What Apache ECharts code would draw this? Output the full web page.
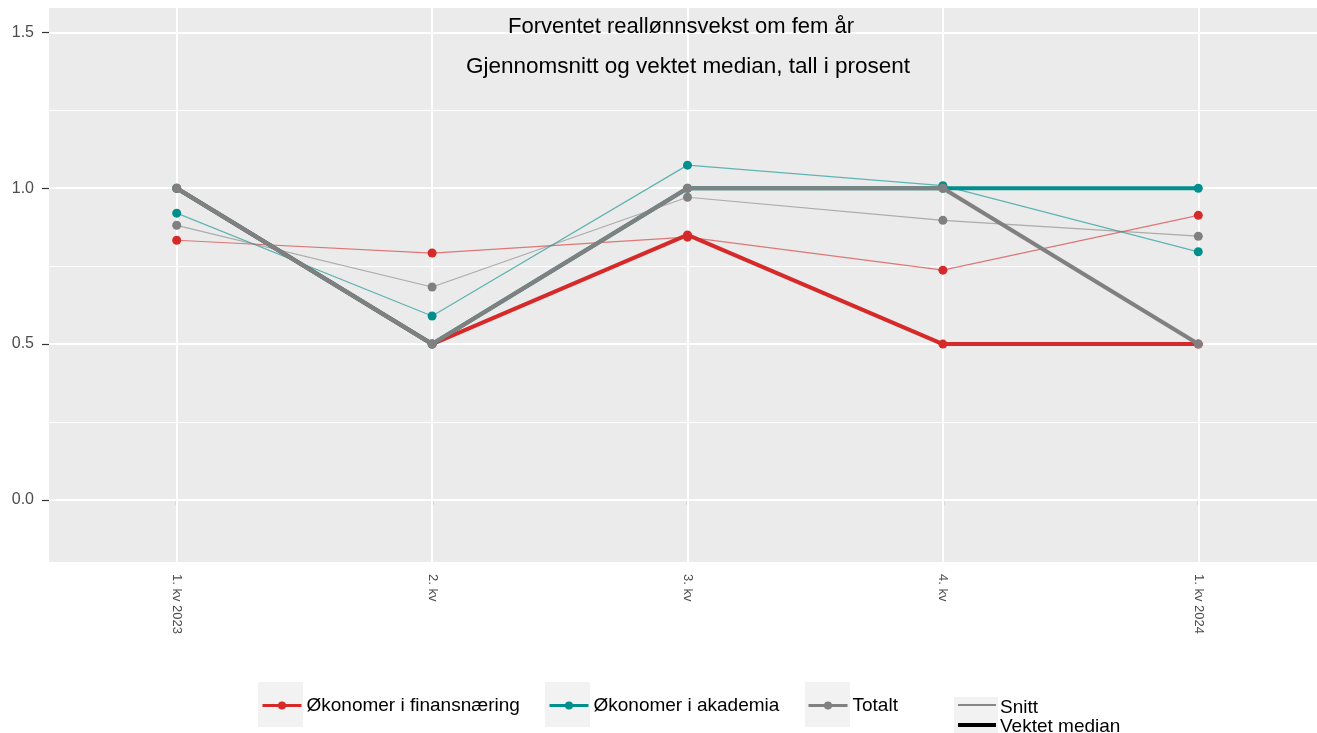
<!DOCTYPE html>
<html>
<head>
<meta charset="utf-8">
<script src="https://cdn.jsdelivr.net/npm/echarts@6/dist/echarts.min.js"></script>
<style>
html,body{margin:0;padding:0;background:#fff;}
#main{width:1317px;height:733px;}
</style>
</head>
<body>
<div id="main"></div>
<script>
// ---- data ----
const categories = ['1. kv 2023', '2. kv', '3. kv', '4. kv', '1. kv 2024'];
const finansSnitt   = [0.833, 0.792, 0.843, 0.737, 0.913];
const akademiaSnitt = [0.920, 0.590, 1.074, 1.008, 0.796];
const totaltSnitt   = [0.881, 0.683, 0.971, 0.897, 0.846];
const finansMedian   = [1.0, 0.5, 0.85, 0.5, 0.5];
const akademiaMedian = [1.0, 0.5, 1.0, 1.0, 1.0];
const totaltMedian   = [1.0, 0.5, 1.0, 1.0, 0.5];
const yTicks = [0, 0.5, 1.0, 1.5];
const yMinor = [0.25, 0.75, 1.25];
const names = ['Økonomer i finansnæring', 'Økonomer i akademia', 'Totalt'];
const colors = ['#d62a2a', '#008f8c', '#808080'];

const FONT = 'Liberation Sans, Arial, sans-serif';

function thin(name, data, color) {
  return {
    name: name, type: 'line', data: data, z: 3,
    symbol: 'circle', symbolSize: 9,
    itemStyle: {color: color},
    lineStyle: {color: color, width: 1.2, opacity: 0.6},
    emphasis: {disabled: true}, silent: true
  };
}
function thick(name, data, color, z) {
  return {
    name: name, type: 'line', data: data, z: z,
    symbol: 'circle', symbolSize: 9,
    itemStyle: {color: color},
    lineStyle: {color: color, width: 4},
    emphasis: {disabled: true}, silent: true
  };
}

const gridLines = [];
yTicks.forEach(v => gridLines.push({yAxis: v, lineStyle: {width: 2}}));
yMinor.forEach(v => gridLines.push({yAxis: v, lineStyle: {width: 1.1}}));
categories.forEach(c => gridLines.push({xAxis: c, lineStyle: {width: 2}}));

const chart = echarts.init(document.getElementById('main'), null, {renderer: 'canvas'});
chart.setOption({
  animation: false,
  backgroundColor: '#ffffff',
  title: [
    {text: 'Forventet reallønnsvekst om fem år', left: 681, top: 16, textAlign: 'center', padding: 0,
     textStyle: {fontFamily: FONT, fontSize: 22, fontWeight: 'normal', color: '#000'}},
    {text: 'Gjennomsnitt og vektet median, tall i prosent', left: 688, top: 55, textAlign: 'center', padding: 0,
     textStyle: {fontFamily: FONT, fontSize: 22.5, fontWeight: 'normal', color: '#000'}}
  ],
  grid: {left: 49, top: 8, width: 1277, height: 554, outerBoundsMode: 'none',
         show: true, backgroundColor: '#ebebeb', borderWidth: 0, containLabel: false},
  xAxis: {
    type: 'category', data: categories, boundaryGap: true,
    axisLine: {show: false},
    axisTick: {show: true, alignWithLabel: true, length: 5, lineStyle: {color: '#333', width: 1.2}},
    axisLabel: {rotate: -90, fontFamily: FONT, fontSize: 13, color: '#4d4d4d', margin: 12},
    splitLine: {show: false}
  },
  yAxis: {
    type: 'value', min: -0.199, max: 1.578,
    axisLine: {show: false},
    axisTick: {show: true, customValues: yTicks, length: 7, lineStyle: {color: '#333', width: 1.2}},
    axisLabel: {customValues: yTicks, fontFamily: FONT, fontSize: 16, color: '#4d4d4d', margin: 15,
                formatter: v => Number(v).toFixed(1)},
    splitLine: {show: false}
  },
  legend: [0, 1, 2].map(i => ({
    data: [names[i]], left: [261, 548, 807][i], top: 696, padding: 0,
    itemWidth: 39, itemHeight: 10, itemGap: 0,
    lineStyle: {width: 3, opacity: 1},
    textStyle: {fontFamily: FONT, fontSize: 19, color: '#000'},
    selectedMode: false
  })),
  graphic: [
    {type: 'rect', z: -1, shape: {x: 258, y: 682, width: 45, height: 45}, style: {fill: '#f2f2f2'}},
    {type: 'rect', z: -1, shape: {x: 545, y: 682, width: 45, height: 45}, style: {fill: '#f2f2f2'}},
    {type: 'rect', z: -1, shape: {x: 805, y: 682, width: 45, height: 45}, style: {fill: '#f2f2f2'}},
    {type: 'rect', z: -1, shape: {x: 954, y: 697, width: 44, height: 45}, style: {fill: '#f2f2f2'}},
    {type: 'line', shape: {x1: 958, y1: 705, x2: 996, y2: 705}, style: {stroke: '#1a1a1a', lineWidth: 1}},
    {type: 'line', shape: {x1: 958, y1: 725, x2: 996, y2: 725}, style: {stroke: '#000', lineWidth: 4}},
    {type: 'text', left: 1000, top: 698, style: {text: 'Snitt', font: '19px ' + FONT, fill: '#000'}},
    {type: 'text', left: 1000, top: 717, style: {text: 'Vektet median', font: '19px ' + FONT, fill: '#000'}}
  ],
  series: [
    {
      name: '_grid', type: 'line', data: [], z: 1, silent: true,
      markLine: {z: 1, silent: true, symbol: 'none', label: {show: false}, animation: false,
                 lineStyle: {color: '#ffffff', type: 'solid'}, data: gridLines, emphasis: {disabled: true}}
    },
    thin(names[0], finansSnitt, colors[0]),
    thin(names[1], akademiaSnitt, colors[1]),
    thin(names[2], totaltSnitt, colors[2]),
    thick(names[0], finansMedian, colors[0], 4),
    thick(names[1], akademiaMedian, colors[1], 5),
    thick(names[2], totaltMedian, colors[2], 6)
  ]
});
</script>
</body>
</html>
